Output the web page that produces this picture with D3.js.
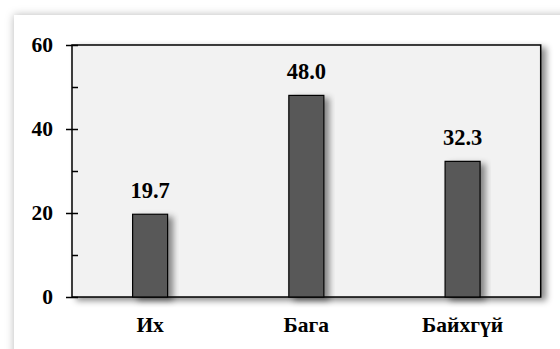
<!DOCTYPE html>
<html>
<head>
<meta charset="utf-8">
<script src="https://cdn.jsdelivr.net/npm/d3@7/dist/d3.min.js"></script>
<style>
  html, body { margin: 0; padding: 0; background: #ffffff; }
  svg { display: block; }
</style>
</head>
<body>
<svg id="chart" width="560" height="349"></svg>
<script>
// Survey answer categories and their shares (%)
const categories = ["Их", "Бага", "Байхгүй"];
const values = [19.7, 48.0, 32.3];
const majorTicks = [0, 20, 40, 60];
const minorTicks = [10, 30, 50];

const W = 560, H = 349;
const margin = { left: 72, top: 45, right: 19.3, bottom: 52 };
const plotW = W - margin.left - margin.right;
const plotH = H - margin.top - margin.bottom;
const SERIF = "Liberation Serif";

const svg = d3.select("#chart");
const defs = svg.append("defs");

// soft glow around the white card
const glow = defs.append("filter").attr("id", "cardShadow")
  .attr("filterUnits", "userSpaceOnUse")
  .attr("x", -20).attr("y", -20).attr("width", W + 60).attr("height", H + 60);
glow.append("feGaussianBlur").attr("in", "SourceAlpha").attr("stdDeviation", 4).attr("result", "b");
glow.append("feFlood").attr("flood-color", "#000").attr("flood-opacity", 0.28).attr("result", "c");
glow.append("feComposite").attr("in", "c").attr("in2", "b").attr("operator", "in").attr("result", "s");
const gm = glow.append("feMerge");
gm.append("feMergeNode").attr("in", "s");
gm.append("feMergeNode").attr("in", "SourceGraphic");

// offset shadow for plot area and bars
const drop = defs.append("filter").attr("id", "dropShadow")
  .attr("x", "-20%").attr("y", "-20%").attr("width", "150%").attr("height", "150%");
drop.append("feGaussianBlur").attr("in", "SourceAlpha").attr("stdDeviation", 3).attr("result", "b");
drop.append("feOffset").attr("in", "b").attr("dx", 4.5).attr("dy", 3).attr("result", "o");
drop.append("feFlood").attr("flood-color", "#000").attr("flood-opacity", 0.45).attr("result", "c");
drop.append("feComposite").attr("in", "c").attr("in2", "o").attr("operator", "in").attr("result", "s");
const dm = drop.append("feMerge");
dm.append("feMergeNode").attr("in", "s");
dm.append("feMergeNode").attr("in", "SourceGraphic");

// card
svg.append("rect")
  .attr("x", 14).attr("y", 15).attr("width", W + 20).attr("height", H + 20)
  .attr("fill", "#ffffff").attr("filter", "url(#cardShadow)");

const x = d3.scaleBand().domain(categories)
  .range([margin.left, margin.left + plotW])
  .paddingInner(0.776).paddingOuter(0.388);
const y = d3.scaleLinear().domain([0, 60]).range([margin.top + plotH, margin.top]);

// plot area
svg.append("rect")
  .attr("x", margin.left).attr("y", margin.top)
  .attr("width", plotW).attr("height", plotH)
  .attr("fill", "#f2f2f2").attr("stroke", "#000").attr("stroke-width", 1.5)
  .attr("filter", "url(#dropShadow)");

// bars
svg.append("g").selectAll("rect").data(values).join("rect")
  .attr("x", (d, i) => x(categories[i]))
  .attr("y", d => y(d))
  .attr("width", x.bandwidth())
  .attr("height", d => y(0) - y(d))
  .attr("fill", "#595959").attr("stroke", "#000").attr("stroke-width", 1.2)
  .attr("filter", "url(#dropShadow)");

// value labels
svg.append("g").selectAll("text").data(values).join("text")
  .attr("x", (d, i) => x(categories[i]) + x.bandwidth() / 2)
  .attr("y", d => y(d) - 16.5)
  .attr("text-anchor", "middle")
  .attr("font-family", SERIF).attr("font-weight", "bold").attr("font-size", 22.5)
  .attr("fill", "#000")
  .text(d => d.toFixed(1));

// y axis: major ticks crossing the axis, minor ticks inside
const yAxis = svg.append("g").attr("transform", `translate(${margin.left},0)`)
  .call(d3.axisLeft(y).tickValues(majorTicks).tickFormat(d3.format("d")).tickSize(6));
yAxis.select(".domain").remove();
yAxis.selectAll(".tick line").attr("x2", -6).attr("x1", 6).attr("stroke", "#000").attr("stroke-width", 1.5);
yAxis.selectAll(".tick text")
  .attr("x", -19)
  .attr("font-family", SERIF).attr("font-weight", "bold").attr("font-size", 21.5)
  .attr("fill", "#000");

const yMinor = svg.append("g").attr("transform", `translate(${margin.left},0)`)
  .call(d3.axisRight(y).tickValues(minorTicks).tickFormat("").tickSize(6));
yMinor.select(".domain").remove();
yMinor.selectAll(".tick line").attr("stroke", "#000").attr("stroke-width", 1.5);

// x axis labels
const xAxis = svg.append("g").attr("transform", `translate(0,${margin.top + plotH})`)
  .call(d3.axisBottom(x).tickSize(0).tickPadding(19.5));
xAxis.select(".domain").remove();
xAxis.selectAll(".tick text")
  .attr("font-family", SERIF).attr("font-weight", "bold").attr("font-size", 21.5)
  .attr("fill", "#000");
</script>
</body>
</html>
